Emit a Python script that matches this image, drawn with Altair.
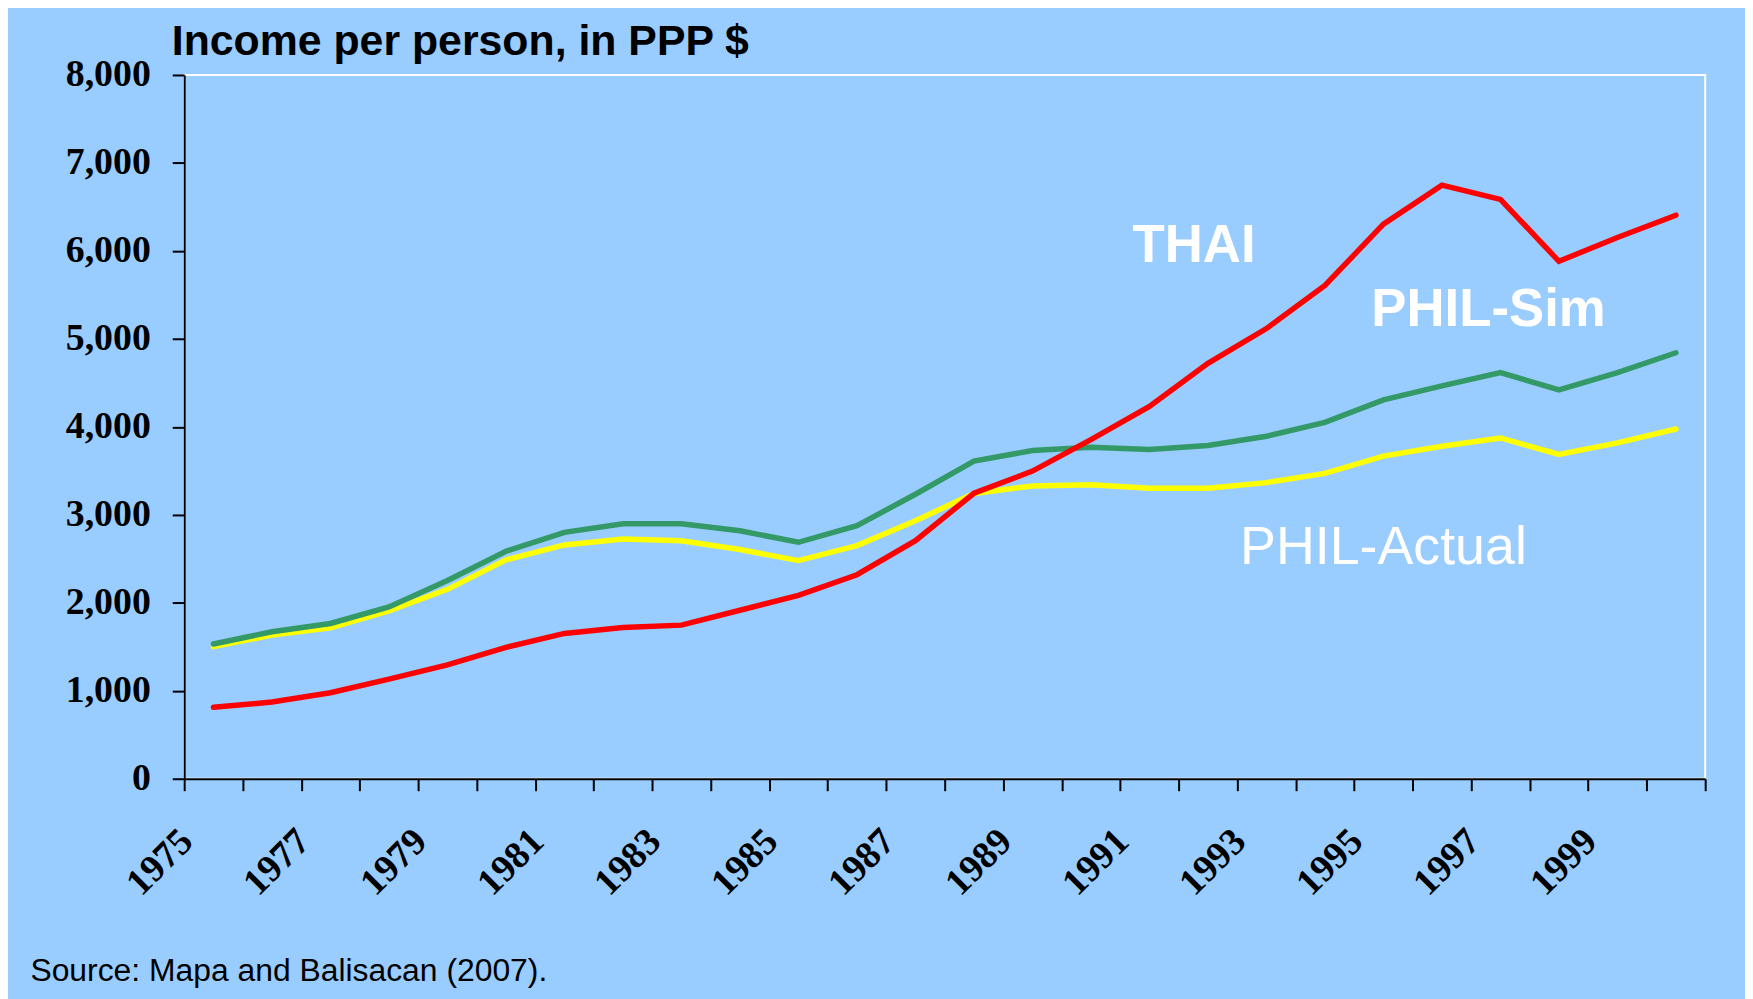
import altair as alt
import pandas as pd

# ---------------- data ----------------
years = [str(y) for y in range(1975, 2001)]

thai = [812, 872, 978, 1132, 1294, 1494, 1652, 1720, 1746, 1915, 2085, 2319, 2706,
        3245, 3497, 3855, 4232, 4722, 5117, 5607, 6304, 6748, 6586, 5882, 6153, 6406]
phil_sim = [1531, 1671, 1765, 1953, 2254, 2586, 2801, 2898, 2898, 2819, 2688, 2876, 3234,
            3610, 3731, 3768, 3742, 3788, 3893, 4051, 4307, 4466, 4616, 4420, 4616, 4842]
phil_actual = [1501, 1633, 1716, 1908, 2153, 2488, 2658, 2725, 2706, 2605, 2480, 2650, 2933,
               3242, 3328, 3343, 3302, 3302, 3366, 3471, 3667, 3780, 3874, 3686, 3818, 3976]

series_names = ["PHIL-Actual", "PHIL-Sim", "THAI"]
series_colors = ["#FFFF00", "#339966", "#FF0000"]

y_ticks = [0, 1000, 2000, 3000, 4000, 5000, 6000, 7000, 8000]

label_text = ["THAI", "PHIL-Sim", "PHIL-Actual"]
label_year = ["1992", "1997", "1995"]
label_value = [5870, 5143, 2443]

title_text = "Income per person, in PPP $"
source_text = "Source: Mapa and Balisacan (2007)."

# ---------------- tables ----------------
rows = []
for name, vals in zip(series_names, [phil_actual, phil_sim, thai]):
    for yr, v in zip(years, vals):
        rows.append({"year": yr, "value": v, "series": name})
df = pd.DataFrame(rows)

labels_df = pd.DataFrame({"text": label_text, "year": label_year, "value": label_value})

# ---------------- encodings ----------------
x_enc = alt.X(
    "year:O",
    sort=years,
    bandPosition=0.5,
    scale=alt.Scale(type="band", domain=years, paddingInner=0, paddingOuter=0),
    axis=alt.Axis(
        title=source_text,
        titleFont="Liberation Sans",
        titleFontSize=32,
        titleFontWeight="normal",
        titleColor="black",
        titleX=-155,
        titleY=203,
        titleAlign="left",
        titleBaseline="alphabetic",
        titleAnchor="start",
        labelExpr="parseInt(datum.value) % 2 == 1 ? datum.value : ''",
        labelAngle=315,
        labelAlign="right",
        labelBaseline="middle",
        labelOffset=-27,
        labelPadding=45,
        labelFont="Liberation Serif",
        labelFontSize=38,
        labelFontWeight="bold",
        labelColor="black",
        labelOverlap=False,
        tickBand="extent",
        tickSize=12,
        tickWidth=2,
        tickColor="black",
        domainColor="black",
        domainWidth=2,
        grid=False,
    ),
)

y_enc = alt.Y(
    "value:Q",
    scale=alt.Scale(domain=[0, 8000], nice=False),
    axis=alt.Axis(
        title=title_text,
        titleAngle=0,
        titleX=-13,
        titleY=-21,
        titleAlign="left",
        titleBaseline="alphabetic",
        titleFont="Liberation Sans",
        titleFontSize=43,
        titleFontWeight="bold",
        titleColor="black",
        values=y_ticks,
        format=",.0f",
        labelFont="Liberation Serif",
        labelFontSize=38,
        labelFontWeight="bold",
        labelColor="black",
        labelPadding=22,
        tickSize=12,
        tickWidth=2,
        tickColor="black",
        domainColor="black",
        domainWidth=2,
        grid=False,
    ),
)

layers = []
for name, col in zip(series_names, series_colors):
    layers.append(
        alt.Chart(df)
        .transform_filter(alt.datum.series == name)
        .mark_line(color=col, strokeWidth=5.5, strokeCap="round", strokeJoin="miter")
        .encode(x=x_enc, y=y_enc)
    )

lbl_x = alt.X("year:O", sort=years, bandPosition=0.5)
lbl_y = alt.Y("value:Q")

thai_lbl = (
    alt.Chart(labels_df)
    .transform_filter(alt.datum.text == "THAI")
    .mark_text(font="Liberation Sans", fontSize=53, fontWeight="bold", color="white",
               align="center", baseline="alphabetic", dx=-14)
    .encode(x=lbl_x, y=lbl_y, text="text:N")
)
sim_lbl = (
    alt.Chart(labels_df)
    .transform_filter(alt.datum.text == "PHIL-Sim")
    .mark_text(font="Liberation Sans", fontSize=53, fontWeight="bold", color="white",
               align="center", baseline="alphabetic", dx=-12)
    .encode(x=lbl_x, y=lbl_y, text="text:N")
)
act_lbl = (
    alt.Chart(labels_df)
    .transform_filter(alt.datum.text == "PHIL-Actual")
    .mark_text(font="Liberation Sans", fontSize=54, fontWeight="normal", color="white",
               align="center", baseline="alphabetic", dx=0)
    .encode(x=lbl_x, y=lbl_y, text="text:N")
)

chart = (
    alt.layer(*layers, thai_lbl, sim_lbl, act_lbl)
    .properties(
        width=1528,
        height=707,
        padding={"left": 177, "top": 65, "right": 40, "bottom": 219},
        autosize=alt.AutoSizeParams(type="none"),
        background="#99CCFF",
    )
    .configure_view(stroke="white", strokeWidth=2, fill=None)
)

chart.save("out.html", embed_options={"renderer": "svg", "actions": False})
